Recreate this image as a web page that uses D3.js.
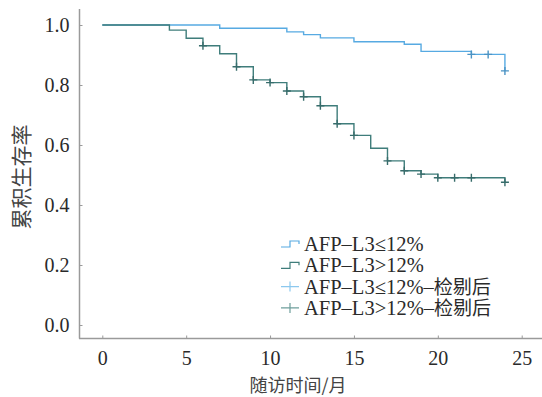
<!DOCTYPE html>
<html>
<head>
<meta charset="utf-8">
<script src="https://cdn.jsdelivr.net/npm/d3@7"></script>
<style>
  body { margin: 0; background: #fff; }
  svg { display: block; }
</style>
</head>
<body>
<svg id="chart" width="542" height="397"></svg>
<script>
// data
const lowTimes = [0, 7, 11, 12, 13, 15, 18, 19, 22, 24];
const lowSurv = [1, 0.989, 0.977, 0.968, 0.957, 0.944, 0.936, 0.912, 0.902, 0.847];
const lowCensor = [22, 23, 24];

const highTimes = [0, 4, 5, 6, 7, 8, 9, 10, 11, 12, 13, 14, 15, 16, 17, 18, 19, 20, 24];
const highSurv = [1, 0.983, 0.956, 0.931, 0.904, 0.861, 0.817, 0.808, 0.78, 0.761, 0.731, 0.671, 0.632, 0.589, 0.547, 0.514, 0.503, 0.491, 0.476];
const highCensor = [6, 8, 9, 10, 11, 12, 13, 14, 15, 17, 18, 19, 20, 21, 22, 24];

const xTicks = [0, 5, 10, 15, 20, 25];
const yTicks = [0, 0.2, 0.4, 0.6, 0.8, 1.0];
const legendLabels = ["AFP-L3≤12%", "AFP-L3>12%", "AFP-L3≤12%-检剔后", "AFP-L3>12%-检剔后"];

const blue = "#57aae2";
const teal = "#3f7d7b";
const axisColor = "#9a9a9a";
const textColor = "#2a2a2a";
const serif = "'Liberation Serif', 'DejaVu Serif', serif";
const cjk = "'Noto Sans CJK SC', sans-serif";

const svg = d3.select("#chart");

const x = d3.scaleLinear().domain([0, 25]).range([102.3, 521.7]);
const y = d3.scaleLinear().domain([0, 1]).range([325, 25]);

// axes lines
svg.append("line")
  .attr("x1", 79.5).attr("x2", 79.5).attr("y1", 9).attr("y2", 338.5)
  .attr("stroke", axisColor).attr("stroke-width", 1.5);
svg.append("line")
  .attr("x1", 79).attr("x2", 542).attr("y1", 338.5).attr("y2", 338.5)
  .attr("stroke", axisColor).attr("stroke-width", 1.5);

const yAxis = svg.append("g")
  .attr("transform", "translate(79.5,0)")
  .call(d3.axisLeft(y).tickValues(yTicks).tickFormat(d3.format(".1f")).tickSize(-3).tickPadding(10));
const xAxis = svg.append("g")
  .attr("transform", "translate(0,338.5)")
  .call(d3.axisBottom(x).tickValues(xTicks).tickSize(-3).tickPadding(12));

[xAxis, yAxis].forEach((g) => {
  g.select(".domain").remove();
  g.selectAll(".tick line").attr("stroke", axisColor);
  g.selectAll(".tick text")
    .attr("fill", textColor)
    .style("font-family", serif)
    .style("font-size", "20px");
});

// axis titles
svg.append("text")
  .attr("transform", "translate(29,177) rotate(-90)")
  .attr("text-anchor", "middle")
  .attr("fill", "#444")
  .style("font-family", cjk)
  .style("font-size", "21px")
  .text("累积生存率");
svg.append("text")
  .attr("x", 298).attr("y", 392)
  .attr("text-anchor", "middle")
  .attr("fill", "#444")
  .style("font-family", cjk)
  .style("font-size", "18px")
  .text("随访时间/月");

// survival steps
const stepLine = d3.line()
  .x((d) => x(d[0]))
  .y((d) => y(d[1]))
  .curve(d3.curveStepAfter);

function survAt(times, surv, t) {
  let v = surv[0];
  times.forEach((tt, i) => { if (tt <= t) v = surv[i]; });
  return v;
}

function drawGroup(times, surv, censor, color) {
  svg.append("path")
    .datum(d3.zip(times, surv))
    .attr("fill", "none")
    .attr("stroke", color)
    .attr("stroke-width", 1.4)
    .attr("d", stepLine);

  svg.append("g").selectAll("path")
    .data(censor)
    .enter()
    .append("path")
    .attr("d", (t) => {
      const cx = x(t), cy = y(survAt(times, surv, t));
      return `M${cx - 4},${cy}H${cx + 4}M${cx},${cy - 4}V${cy + 4}`;
    })
    .attr("stroke", d3.color(color).darker(0.4))
    .attr("stroke-width", 1.4);
}

drawGroup(lowTimes, lowSurv, lowCensor, blue);
drawGroup(highTimes, highSurv, highCensor, teal);

// legend
const legend = svg.append("g").attr("transform", "translate(281,244)");
const legendColors = [blue, teal, "#8cc8ee", "#6e9e9c"];
legendLabels.forEach((label, i) => {
  const row = legend.append("g").attr("transform", `translate(0,${i * 21.3})`);
  if (i < 2) {
    row.append("path")
      .attr("d", "M0,3H9V-3H18V0")
      .attr("fill", "none")
      .attr("stroke", legendColors[i])
      .attr("stroke-width", 1.2);
  } else {
    row.append("path")
      .attr("d", "M0,0H18M9,-5V5")
      .attr("fill", "none")
      .attr("stroke", legendColors[i])
      .attr("stroke-width", 1.2);
  }
  const parts = label.split(/(检剔后)/);
  const txt = row.append("text")
    .attr("x", 23).attr("y", 0).attr("dy", "0.35em")
    .attr("fill", textColor)
    .style("font-size", "20.5px");
  parts.filter((p) => p).forEach((p) => {
    txt.append("tspan")
      .style("font-family", p === "检剔后" ? cjk : serif)
      .style("font-size", p === "检剔后" ? "19px" : null)
      .text(p.replaceAll("-", "–"));
  });
});
</script>
</body>
</html>
